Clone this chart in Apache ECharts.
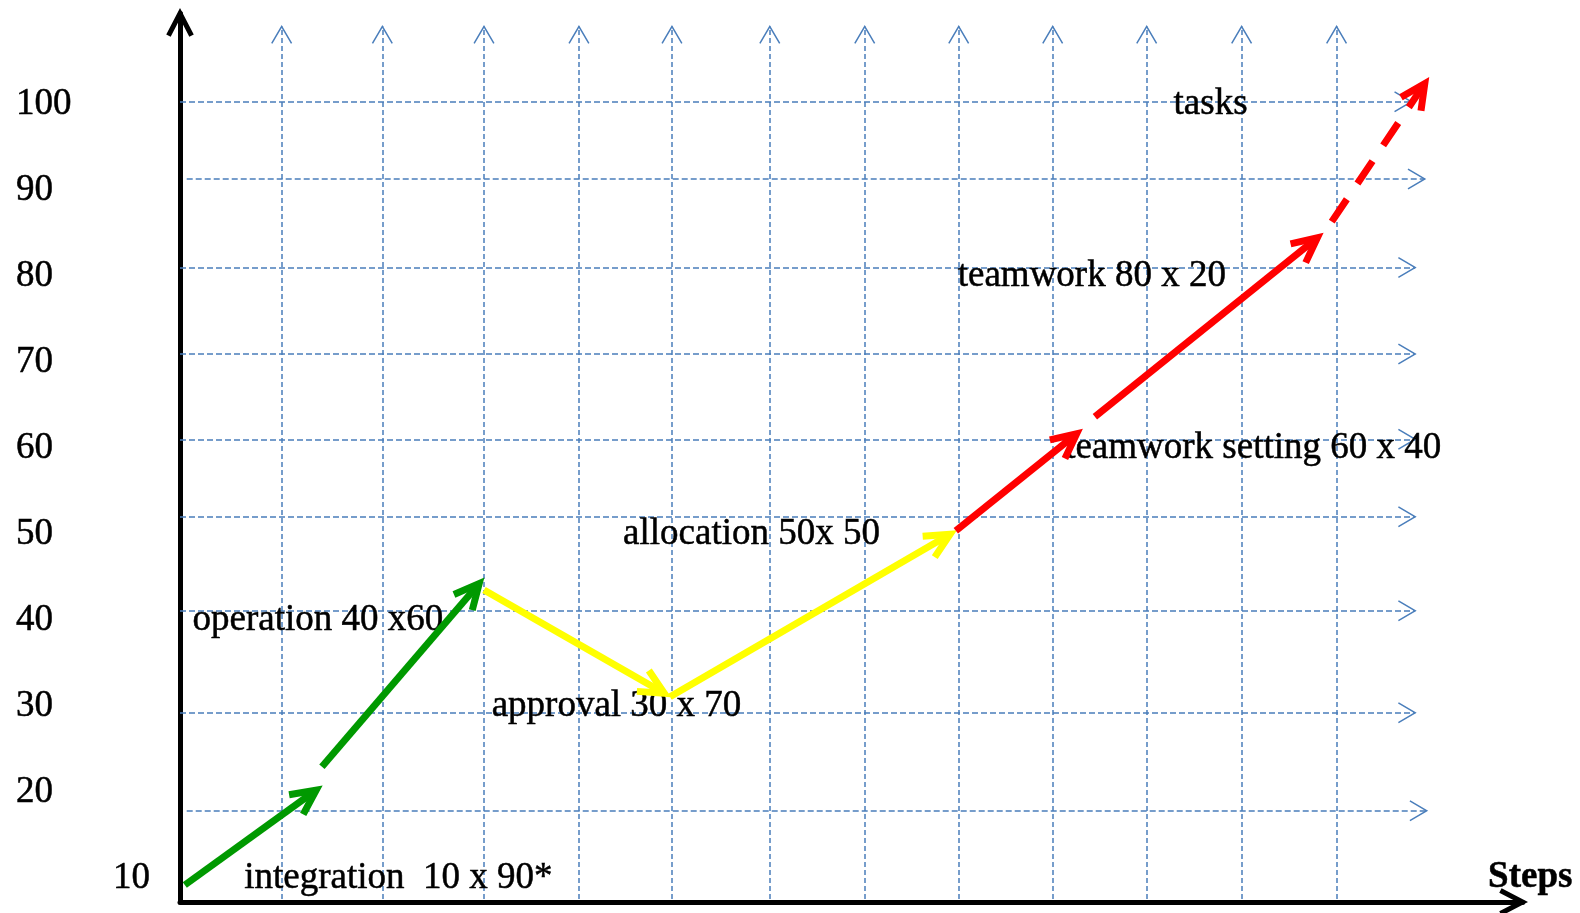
<!DOCTYPE html>
<html><head><meta charset="utf-8">
<script src="https://cdn.jsdelivr.net/npm/echarts@6/dist/echarts.min.js"></script>
<style>html,body{margin:0;padding:0;background:#fff}#c{width:1580px;height:913px}</style>
</head><body><div id="c"></div>
<script>
// ---- data (axis units: x = steps, y = tasks scale) ----
const yTickValues = [10, 20, 30, 40, 50, 60, 70, 80, 90, 100];
const hGridY = [100, 91, 80.7, 70.64, 60.71, 51.7, 40.76, 28.89, 17.48];
const hGridFrom = [0, 0.07, 0, 0, 0, 0, 0, 0, 0.07];
const hGridTo = [12.84, 12.98, 12.88, 12.88, 12.88, 12.88, 12.88, 12.88, 13.0];
const vGridX = [1.06, 2.11, 3.17, 4.16, 5.13, 6.15, 7.14, 8.12, 9.10, 10.08, 11.07, 12.06];
const vGridFrom = 7.2;
const vGridTo = 108.75;

// arrows: [fromX, fromY, toX, toY]
const greenArrows = [[0.05, 8.84, 1.42, 19.88], [1.48, 22.6, 3.12, 43.92]];
const yellowArrows = [[3.17, 43.17, 5.05, 31.16], [5.11, 30.75, 8.03, 49.66]];
const redArrows = [[8.09, 50.07, 9.35, 61.36], [9.54, 63.34, 11.86, 84.17]];
const redDashedArrows = [[12.01, 86.04, 12.98, 102.12]];

const noteTexts = ['tasks', 'teamwork 80 x 20', 'teamwork setting 60 x 40', 'allocation 50x 50',
  'operation 40 x60', 'approval 30 x 70', 'integration  10 x 90*'];
const noteX = [10.36, 8.11, 9.23, 4.62, 0.13, 3.25, 0.67];
const noteY = [100, 80, 60, 50, 40, 30, 10];
const axisTitle = 'Steps';
const axisTitleX = 13.64;
const axisTitleY = 10.1;

// ---- styling helpers ----
const FONT = 'Liberation Serif';
const GRID_BLUE = '#4A7EBB';

function chevron(L, thetaDeg, h) {
  const t = thetaDeg * Math.PI / 180, s = Math.sin(t), c = Math.cos(t);
  const tipOut = [0, -h / s], tipIn = [0, h / s];
  const rO = [L * s + h * c, L * c - h * s];
  const rI = [L * s - h * c, L * c + h * s];
  const f = v => v.toFixed(3);
  const pts = [tipOut, rO, rI, tipIn, [-rI[0], rI[1]], [-rO[0], rO[1]]];
  const path = 'path://M' + pts.map(p => f(p[0]) + ',' + f(p[1])).join(' L') + ' Z';
  const w = 2 * rO[0];
  const hh = rI[1] - tipOut[1];
  const off = (rI[1] + tipOut[1]) / 2;
  return { path, w, h: hh, off };
}

const gridChev = chevron(19.5, 30.5, 0.75);
const arrowChev = chevron(27.5, 26, 3.5);
const axisChev = chevron(25, 27.5, 2.5);

function arrowSeries(list, color, dashed, z) {
  return {
    type: 'line', data: [], silent: true, z: z,
    markLine: {
      silent: true, z: z, animation: false,
      symbol: ['none', arrowChev.path],
      symbolSize: [arrowChev.w, arrowChev.h],
      symbolOffset: [0, [0, arrowChev.off]],
      label: { show: false },
      lineStyle: { color: color, width: 7, type: dashed ? [27, 19] : 'solid', cap: 'butt', opacity: 1 },
      emphasis: { disabled: true },
      data: list.map(a => [{ coord: [a[0], a[1]] }, { coord: [a[2], a[3]] }])
    }
  };
}

const gridLines = [];
hGridY.forEach((y, i) => {
  gridLines.push([{ coord: [hGridFrom[i], y] }, { coord: [hGridTo[i], y] }]);
});
vGridX.forEach(x => {
  gridLines.push([{ coord: [x, vGridFrom], lineStyle: { type: [5, 3] } }, { coord: [x, vGridTo] }]);
});

const textBase = {
  fontFamily: FONT, fontSize: 37, color: '#000',
  textBorderColor: '#000', textBorderWidth: 0.5
};

const chart = echarts.init(document.getElementById('c'), null, { renderer: 'canvas' });
chart.setOption({
  animation: false,
  backgroundColor: '#ffffff',
  textStyle: { fontFamily: FONT },
  grid: { left: 180, right: 57.4, top: 13.4, bottom: 11, containLabel: false, outerBoundsMode: 'none' },
  xAxis: {
    type: 'value', min: 0, max: 14,
    axisLine: {
      show: true, onZero: false,
      symbol: ['none', axisChev.path],
      symbolSize: [axisChev.w, axisChev.h],
      symbolOffset: [0, -axisChev.off],
      lineStyle: { color: '#000', width: 5 }
    },
    axisTick: { show: false }, axisLabel: { show: false }, splitLine: { show: false }
  },
  yAxis: {
    type: 'value', min: 6.858, max: 110.28,
    axisLine: {
      show: true, onZero: false,
      symbol: ['none', axisChev.path],
      symbolSize: [axisChev.w, axisChev.h],
      symbolOffset: [0, -axisChev.off],
      lineStyle: { color: '#000', width: 5 }
    },
    axisTick: { show: false },
    splitLine: { show: false },
    axisLabel: Object.assign({
      show: true,
      customValues: yTickValues,
      align: 'left', margin: 164,
      padding: [6, 0, 0, 0],
      formatter: v => (v === 10 ? '{p|10}' : String(v)),
      rich: { p: Object.assign({ padding: [0, 0, 0, 97] }, textBase) }
    }, textBase)
  },
  series: [
    {
      type: 'line', data: [], silent: true, z: 1,
      markLine: {
        silent: true, z: 1, animation: false,
        symbol: ['none', gridChev.path],
        symbolSize: [gridChev.w, gridChev.h],
        symbolOffset: [0, [0, gridChev.off]],
        label: { show: false },
        emphasis: { disabled: true },
        lineStyle: { color: GRID_BLUE, width: 1.5, type: [6, 3], opacity: 1 },
        data: gridLines
      }
    },
    {
      type: 'scatter', silent: true, z: 3, symbolSize: 0,
      itemStyle: { opacity: 1 },
      data: noteX.map((x, i) => ({ value: [x, noteY[i]], name: noteTexts[i] })),
      label: Object.assign({
        show: true, position: 'right', distance: 0, offset: [0, 3], opacity: 1,
        formatter: p => p.name
      }, textBase)
    },
    {
      type: 'scatter', silent: true, z: 3, symbolSize: 0,
      itemStyle: { opacity: 1 },
      data: [{ value: [axisTitleX, axisTitleY], name: axisTitle }],
      label: Object.assign({
        show: true, position: 'right', distance: 0, offset: [0, 3], opacity: 1,
        formatter: p => p.name
      }, textBase, { fontWeight: 'bold' })
    },
    arrowSeries(greenArrows, '#009900', false, 10),
    arrowSeries(yellowArrows, '#FFFF00', false, 11),
    arrowSeries(redArrows, '#FF0000', false, 12),
    arrowSeries(redDashedArrows, '#FF0000', true, 12)
  ]
});
</script>
</body></html>
